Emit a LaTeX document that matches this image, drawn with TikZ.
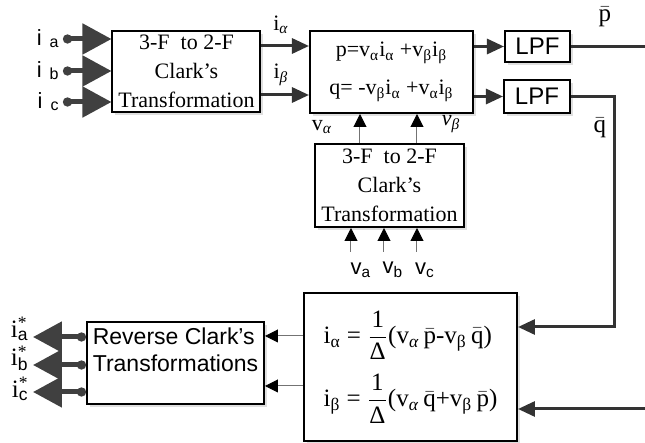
\documentclass[tikz,border=0pt]{standalone}
\usepackage{amsmath}
\usepackage{fontspec}
\setmainfont{Liberation Serif}
\setsansfont{Liberation Sans}
\usetikzlibrary{arrows.meta,shadows}

\begin{document}
\begin{tikzpicture}[
    % blocks with a light shadow
    blockbox/.style={draw, line width=1pt, fill=white, inner sep=0pt, align=center,
        font=\fontsize{11}{14.5}\selectfont,
        drop shadow={opacity=0.25, shadow xshift=1.5pt, shadow yshift=-1.5pt}},
    sfbox/.style={blockbox, font=\sffamily\fontsize{11.5}{13.5}\selectfont},
    lbl/.style={inner sep=0pt, font=\fontsize{11}{13}\selectfont},
    sflbl/.style={inner sep=0pt, font=\sffamily\fontsize{11}{13}\selectfont},
    % connectors
    thinarrow/.style={draw=black!55, line width=0.5pt, -{Triangle[length=6.5pt, width=6.5pt, color=black]}},
    thickarrow/.style={draw=black!80, line width=1.5pt, -{Triangle[length=8.5pt, width=7.5pt]}},
    feedline/.style={draw=black!80, line width=1.5pt},
    busarrow/.style={draw=black!75, line width=2.5pt, {Circle[length=4.5pt]}-{Triangle[length=14.5pt, width=15pt]}}
,x=0.5pt, y=-0.5pt]

    \useasboundingbox (0,0) rectangle (645,443);

    % Blocks
    \node[blockbox, minimum width=74pt, minimum height=40.5pt] (C1) at (186.5,71.5)
        {3-F\ \ to 2-F\\Clark’s\\Transformation};
    \node[blockbox, minimum width=81.5pt, minimum height=41pt] (PQ) at (391.5,72)
        {p=v\textsubscript{α}i\textsubscript{α} +v\textsubscript{β}i\textsubscript{β}\\[4.5pt]
         q= -v\textsubscript{β}i\textsubscript{α} +v\textsubscript{α}i\textsubscript{β}};
    \node[sfbox, font=\sffamily\fontsize{12}{14}\selectfont, minimum width=32.5pt, minimum height=15.5pt] (L1) at (537.5,46.5) {LPF};
    \node[sfbox, font=\sffamily\fontsize{12}{14}\selectfont, minimum width=33pt, minimum height=16.5pt] (L2) at (537,96.5) {LPF};
    \node[blockbox, minimum width=74.5pt, minimum height=41.5pt] (C2) at (389.5,185.5)
        {3-F\ \ to 2-F\\Clark’s\\Transformation};
    \node[blockbox, align=left, font=\fontsize{12.5}{15}\selectfont, minimum width=106.5pt, minimum height=74pt] (EQ) at (410.5,367)
        {i\textsubscript{α} = $\dfrac{\mbox{1}}{\mbox{Δ}}$(v\textsubscript{\textit{α}}\,$\bar{\mbox{p}}$-v\textsubscript{β}\,$\bar{\mbox{q}}$)\\[6pt]
         i\textsubscript{β} = $\dfrac{\mbox{1}}{\mbox{Δ}}$(v\textsubscript{\textit{α}}\,$\bar{\mbox{q}}$+v\textsubscript{β}\,$\bar{\mbox{p}}$)};
    \node[sfbox, align=left, minimum width=88.5pt, minimum height=41pt] (RC) at (175.5,363)
        {Reverse Clark’s\\Transformations\\\mbox{}};

    % Free ends
    \coordinate (ia) at (63,39);
    \coordinate (ib) at (63,71);
    \coordinate (ic) at (63,102);
    \coordinate (va) at (351,252);
    \coordinate (vb) at (384,252);
    \coordinate (vc) at (417,252);
    \coordinate (pout) at (645,44);
    \coordinate (qc) at (615,327);
    \coordinate (pin) at (645,409);
    \coordinate (oa) at (33,337);
    \coordinate (ob) at (33,365);
    \coordinate (oc) at (33,392);

    % Current inputs
    \draw[busarrow] (ia) -- (ia -| C1.west);
    \draw[busarrow] (ib) -- (ib -| C1.west);
    \draw[busarrow] (ic) -- (ic -| C1.west);
    \node[sflbl, anchor=east] (lia) at ([xshift=-2pt]ia) {i\hspace{4pt}\raisebox{-1pt}{\footnotesize a}};
    \node[sflbl, anchor=east] (lib) at ([xshift=-2pt]ib) {i\hspace{4pt}\raisebox{-1pt}{\footnotesize b}};
    \node[sflbl, anchor=east] (lic) at ([xshift=-2pt]ic) {i\hspace{4pt}\raisebox{-1pt}{\footnotesize c}};

    % alpha-beta currents
    \draw[thickarrow] ([yshift=12.75pt]C1.east) -- ([yshift=12.75pt]C1.east -| PQ.west);
    \draw[thickarrow] ([yshift=-11.75pt]C1.east) -- ([yshift=-11.75pt]C1.east -| PQ.west);
    \node[lbl] (lal) at (281,25) {i\textsubscript{\textit{α}}};
    \node[lbl] (lbe) at (281,75) {i\textsubscript{\textit{β}}};

    % p and q into the filters
    \draw[thickarrow] (PQ.east |- L1.west) -- (L1.west);
    \draw[thickarrow] (PQ.east |- L2.west) -- (L2.west);

    % Voltages
    \draw[thinarrow] ([xshift=-14.75pt]C2.north) -- ([xshift=-14.75pt]C2.north |- PQ.south);
    \draw[thinarrow] ([xshift=13.75pt]C2.north) -- ([xshift=13.75pt]C2.north |- PQ.south);
    \node[lbl] (lva) at (322,127) {v\textsubscript{\textit{α}}};
    \node[lbl] (lvb) at (451,124) {\textit{v}\textsubscript{\textit{β}}};
    \draw[thinarrow] (va) -- (va |- C2.south);
    \draw[thinarrow] (vb) -- (vb |- C2.south);
    \draw[thinarrow] (vc) -- (vc |- C2.south);
    \node[sflbl] (lvpa) at (361,270) {v\textsubscript{a}};
    \node[sflbl] (lvpb) at (393,270) {v\textsubscript{b}};
    \node[sflbl] (lvpc) at (425,270) {v\textsubscript{c}};

    % Filtered powers
    \draw[feedline] (L1.east) -- (L1.east -| pout);
    \node[lbl, font=\fontsize{12.5}{14}\selectfont] (lp) at (605,17) {$\bar{\mbox{p}}$};
    \draw[thickarrow] (L2.east) -| (qc) -- (qc -| EQ.east);
    \node[lbl, font=\fontsize{12.5}{14}\selectfont] (lq) at (600,128) {$\bar{\mbox{q}}$};
    \draw[thickarrow] (pin) -- (pin -| EQ.east);

    % Reference currents
    \draw[thinarrow] ([yshift=15.5pt]EQ.west) -- ([yshift=15.5pt]EQ.west -| RC.east);
    \draw[thinarrow] ([yshift=-9.5pt]EQ.west) -- ([yshift=-9.5pt]EQ.west -| RC.east);
    \draw[busarrow] ([yshift=13pt]RC.west) -- (oa);
    \draw[busarrow] ([yshift=-1pt]RC.west) -- (ob);
    \draw[busarrow] ([yshift=-14.5pt]RC.west) -- (oc);
    \node[lbl, font=\fontsize{12.5}{14}\selectfont, anchor=east] (loa) at (29,329) {i\rlap{\textsuperscript{*}}\textsubscript{\sffamily a}};
    \node[lbl, font=\fontsize{12.5}{14}\selectfont, anchor=east] (lob) at (29,358) {i\rlap{\textsuperscript{*}}\textsubscript{\sffamily b}};
    \node[lbl, font=\fontsize{12.5}{14}\selectfont, anchor=east] (loc) at (29,389) {i\rlap{\textsuperscript{*}}\textsubscript{\sffamily c}};
\end{tikzpicture}
\end{document}
